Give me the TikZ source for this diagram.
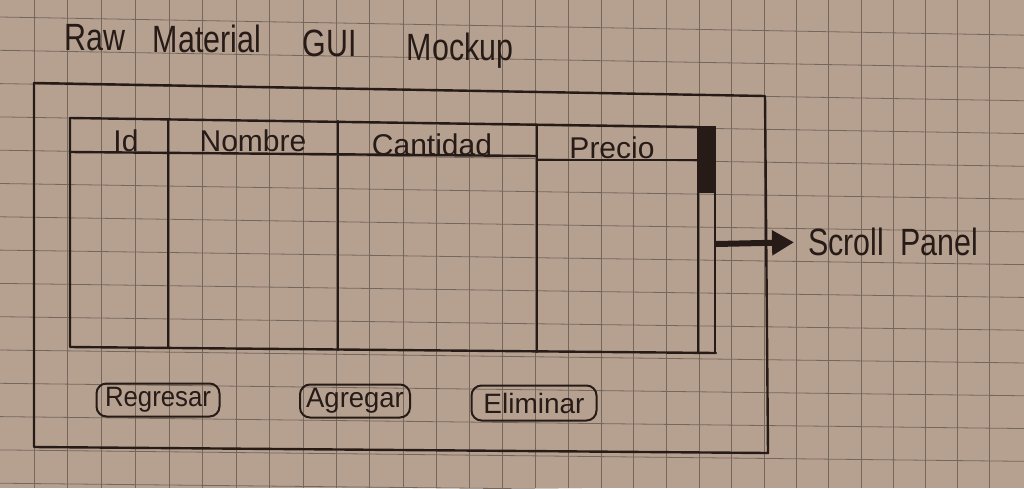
\documentclass[tikz,border=0pt]{standalone}
\usepackage{fontspec}
\setmainfont{Liberation Sans}
\usetikzlibrary{arrows.meta}
\definecolor{paper}{RGB}{182,161,145}
\definecolor{gridc}{RGB}{118,103,93}
\definecolor{ink}{RGB}{38,27,23}
\begin{document}
\begin{tikzpicture}[x=1pt,y=-1pt,
  inkline/.style={draw=ink,line width=2.4pt,line join=round,line cap=round},
  gridline/.style={draw=gridc,line width=0.8pt},
  ttl/.style={font=\fontsize{38}{38}\selectfont,text=ink,inner sep=0pt,anchor=base},
  hdr/.style={font=\fontsize{30}{30}\selectfont,text=ink,inner sep=0pt,anchor=base},
  btn/.style={draw=ink,line width=2pt,rounded corners=10pt,inner sep=0pt,
    font=\fontsize{28}{28}\selectfont,text=ink},
  lbl/.style={font=\fontsize{38}{38}\selectfont,text=ink,inner sep=0pt,anchor=west}]
\useasboundingbox (0,0) rectangle (1024,488);
\fill[paper] (0,0) rectangle (1024,488);
% grid paper
\foreach \k in {1,...,30} {
  \pgfmathsetmacro\xx{34*\k-0.034*\k*\k}
  \draw[gridline] (\xx,0) -- (\xx,488);
}
\foreach \k in {0,...,14} {
  \pgfmathsetmacro\yy{17+33.3*\k}
  \pgfmathsetmacro\ye{\yy+1024*(0.018-0.00002*\yy)}
  \draw[gridline] (0,\yy) -- (1024,\ye);
}
% title
\node[ttl] (t1) at (95,50) {\scalebox{0.8}[1]{Raw}};
\node[ttl] (t2) at (207,52) {\scalebox{0.8}[1]{Material}};
\node[ttl] (t3) at (330,56) {\scalebox{0.8}[1]{GUI}};
\node[ttl] (t4) at (460,60) {\scalebox{0.8}[1]{Mockup}};
% outer frame
\draw[inkline] (34,83) -- (765,96) -- (768,453) -- (34,447) -- cycle;
% table
\draw[inkline] (70,118) -- (698,127);
\draw[inkline] (70,118) -- (70,347) -- (716,353);
\draw[inkline] (70,152) -- (537,156);
\draw[inkline] (537,160) -- (698,160);
\draw[inkline] (168,119) -- (168,348);
\draw[inkline] (338,121) -- (338,350);
\draw[inkline] (537,125) -- (537,352);
\draw[inkline] (698,127) -- (698,353);
\draw[inkline] (715,127) -- (715,353);
\fill[ink] (697,126) rectangle (716,193);
% headers
\node[hdr] (hid) at (126,151) {Id};
\node[hdr] (hnom) at (253,151) {Nombre};
\node[hdr] (hcan) at (432,155) {Cantidad};
\node[hdr] (hpre) at (612,158) {Precio};
% scroll annotation
\coordinate (sb) at (716,244);
\node[lbl] (scroll) at (808,242) {\scalebox{0.8}[1]{Scroll\hspace{20pt}Panel}};
\draw[ink,line width=6pt,-{Triangle[length=22pt,width=24pt]},shorten >=14pt] (sb) -- (scroll.west);
% buttons
\node[btn,minimum width=123pt,minimum height=33pt] (reg) at (158,400) {\scalebox{0.92}[1]{Regresar}};
\node[btn,minimum width=110pt,minimum height=33pt] (agr) at (355,401) {\scalebox{0.98}[1]{Agregar}};
\node[btn,minimum width=125pt,minimum height=35pt] (eli) at (534,403) {Eliminar};
\end{tikzpicture}
\end{document}
